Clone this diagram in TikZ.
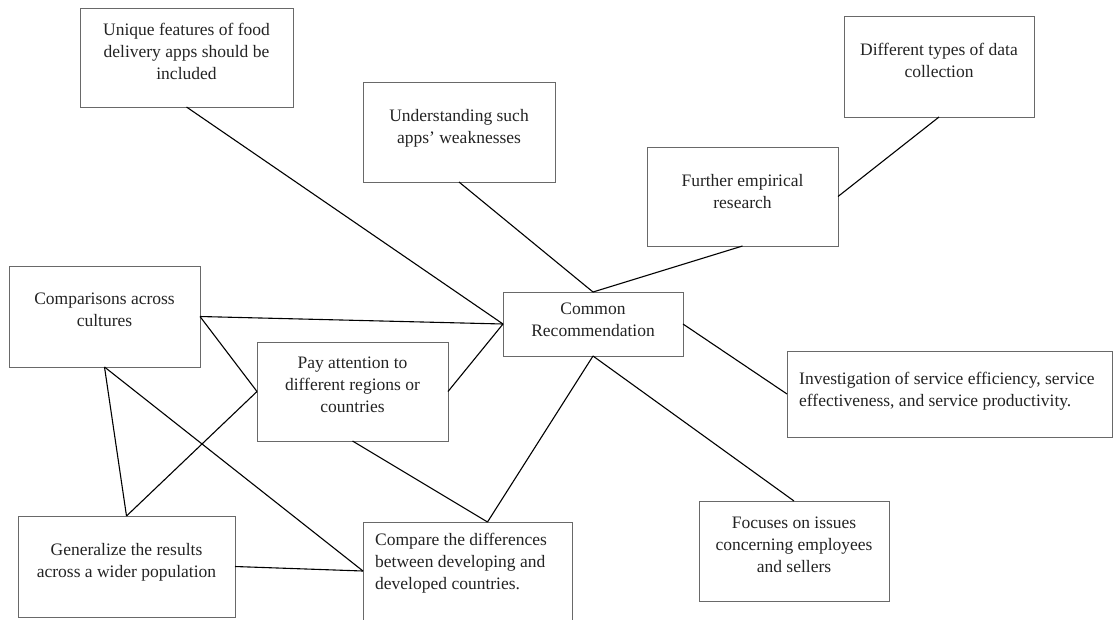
\documentclass[tikz,border=0pt]{standalone}
\usepackage{fontspec}
\setmainfont{Liberation Serif}
\usetikzlibrary{positioning}
\definecolor{boxgray}{RGB}{105,105,105}
\definecolor{textgray}{RGB}{35,35,35}

\tikzset{
  box/.style={draw=boxgray, line width=0.9pt, anchor=north west, inner sep=0pt, outer sep=0pt},
  boxtext/.style={inner sep=0pt, align=center, text=textgray, font=\fontsize{17.5pt}{22pt}\selectfont},
  link/.style={line width=1.1pt, black}
}

\begin{document}
\begin{tikzpicture}[x=1pt, y=-1pt]
  \useasboundingbox (0,0) rectangle (1115,619);

  % Boxes
  \node[box, minimum width=213pt, minimum height=99pt] (unique) at (80,8) {};
  \node[box, minimum width=192pt, minimum height=100pt] (understanding) at (363,82) {};
  \node[box, minimum width=190pt, minimum height=101pt] (different) at (844,16) {};
  \node[box, minimum width=191pt, minimum height=99pt] (further) at (647,147) {};
  \node[box, minimum width=180pt, minimum height=64pt] (cr) at (503,292) {};
  \node[box, minimum width=191pt, minimum height=101pt] (comparisons) at (9,266) {};
  \node[box, minimum width=191pt, minimum height=99pt] (pay) at (257,342) {};
  \node[box, minimum width=325pt, minimum height=86pt] (investigation) at (787,351) {};
  \node[box, minimum width=190pt, minimum height=100pt] (focuses) at (699,501) {};
  \node[box, minimum width=217pt, minimum height=101pt] (generalize) at (18,516) {};
  \node[box, minimum width=209pt, minimum height=98pt] (compare) at (363,522) {};

  % Texts
  \node[boxtext, below=15pt of unique.north] (unique-t) {Unique features of food\\delivery apps should be\\included};
  \node[boxtext, below=27pt of understanding.north] (understanding-t) {Understanding such\\apps’ weaknesses};
  \node[boxtext, below=27pt of different.north] (different-t) {Different types of data\\collection};
  \node[boxtext, below=27pt of further.north] (further-t) {Further empirical\\research};
  \node[boxtext, below=11pt of cr.north] (cr-t) {Common\\Recommendation};
  \node[boxtext, below=27pt of comparisons.north] (comparisons-t) {Comparisons across\\cultures};
  \node[boxtext, below=15pt of pay.north] (pay-t) {Pay attention to\\different regions or\\countries};
  \node[boxtext, align=left, anchor=north west] (investigation-t) at ([xshift=12pt, yshift=-21pt]investigation.north west) {Investigation of service efficiency, service\\effectiveness, and service productivity.};
  \node[boxtext, below=16pt of focuses.north] (focuses-t) {Focuses on issues\\concerning employees\\and sellers};
  \node[boxtext, below=27pt of generalize.north] (generalize-t) {Generalize the results\\across a wider population};
  \node[boxtext, align=left, anchor=north west] (compare-t) at ([xshift=12pt, yshift=-11pt]compare.north west) {Compare the differences\\between developing and\\developed countries.};

  \coordinate (compare-top) at ([xshift=20pt]compare.north);

  % Connectors
  \draw[link] (unique.south) -- (cr.west);
  \draw[link] (understanding.south) -- (cr.north);
  \draw[link] (different.south) -- (further.east);
  \draw[link] (further.south) -- (cr.north);
  \draw[link] (comparisons.east) -- (cr.west);
  \draw[link] (comparisons.east) -- (pay.west);
  \draw[link] (comparisons.south) -- (generalize.north);
  \draw[link] (comparisons.south) -- (compare.west);
  \draw[link] (pay.west) -- (generalize.north);
  \draw[link] (pay.east) -- (cr.west);
  \draw[link] (pay.south) -- (compare-top);
  \draw[link] (cr.south) -- (compare-top);
  \draw[link] (cr.south) -- (focuses.north);
  \draw[link] (cr.east) -- (investigation.west);
  \draw[link] (generalize.east) -- (compare.west);
\end{tikzpicture}
\end{document}
